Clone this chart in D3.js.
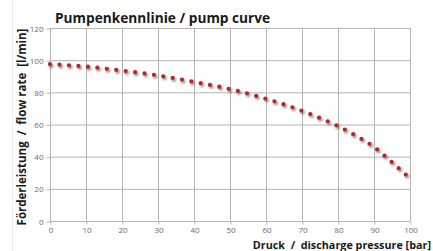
<!DOCTYPE html>
<meta charset="utf-8">
<style>
body { margin: 0; background: #fff; }
.grid line { stroke: #b4b4b4; stroke-width: 1px; }
.axis text { fill: #6a6a6a; font-family: "Open Sans", sans-serif; font-size: 8px; }
.axis line, .axis path { stroke: #b4b4b4; }
.curve { fill: none; stroke: #b02c2c; stroke-width: 4.3px; stroke-linecap: round; stroke-dasharray: 0 9.5; }
.title { font-family: "Open Sans", sans-serif; font-weight: bold; fill: #1a1a1a; }
</style>
<svg width="433" height="251"></svg>
<script src="https://d3js.org/d3.v7.min.js"></script>
<script>

// pump curve
var pressure = [0, 10, 20, 30, 40, 50, 60, 70, 75, 80, 85, 90, 95, 100];
var flow     = [97.5, 96, 93.5, 90.5, 86.5, 82, 76, 68.5, 64, 59, 53, 46, 36.5, 26.5];
var xTicks = [0, 10, 20, 30, 40, 50, 60, 70, 80, 90, 100];
var yTicks = [0, 20, 40, 60, 80, 100, 120];

var svg = d3.select("svg"),
    margin = {top: 28, right: 24, bottom: 30, left: 50},
    width = 360,
    height = 193,
    g = svg.append("g").attr("transform", "translate(" + margin.left + "," + margin.top + ")");

var data = pressure.map(function(p, i) { return {p: p, q: flow[i]}; });

var x = d3.scaleLinear().domain([0, 100]).range([0, width]);
var y = d3.scaleLinear().domain([0, 120]).range([height, 0]);

// faint frame line at the left of the chart area
svg.append("line")
    .attr("x1", 12.5).attr("x2", 12.5).attr("y1", 0).attr("y2", 251)
    .attr("stroke", "#ececec");

var defs = svg.append("defs");
var f = defs.append("filter").attr("id", "shadow")
    .attr("x", "-10%").attr("y", "-10%").attr("width", "120%").attr("height", "130%");
f.append("feDropShadow").attr("dx", 1.3).attr("dy", 1.7).attr("stdDeviation", 1)
    .attr("flood-color", "#000").attr("flood-opacity", 0.5);

g.append("g").attr("class", "grid")
  .selectAll("line.v").data(xTicks).enter().append("line")
    .attr("x1", function(d) { return x(d) + 0.5; })
    .attr("x2", function(d) { return x(d) + 0.5; })
    .attr("y1", 0).attr("y2", height);

g.append("g").attr("class", "grid")
  .selectAll("line.h").data(yTicks).enter().append("line")
    .attr("x1", 0).attr("x2", width)
    .attr("y1", function(d) { return y(d) + 0.5; })
    .attr("y2", function(d) { return y(d) + 0.5; });

g.append("g")
    .attr("class", "axis")
    .attr("transform", "translate(0.5," + (height + 0.5) + ")")
    .call(d3.axisBottom(x).tickValues(xTicks).tickSize(3).tickPadding(3))
    .call(function(s) { s.select(".domain").remove(); });

g.append("g")
    .attr("class", "axis")
    .attr("transform", "translate(0.5,0.5)")
    .call(d3.axisLeft(y).tickValues(yTicks).tickSize(4).tickPadding(3))
    .call(function(s) { s.select(".domain").remove(); });

var line = d3.line()
    .curve(d3.curveMonotoneX)
    .x(function(d) { return x(d.p); })
    .y(function(d) { return y(d.q); });

g.append("path")
    .datum(data)
    .attr("class", "curve")
    .attr("filter", "url(#shadow)")
    .attr("d", line);

svg.append("text")
    .attr("class", "title")
    .attr("x", 55).attr("y", 23)
    .style("font-size", "13.7px")
    .text("Pumpenkennlinie / pump curve");

svg.append("text")
    .attr("class", "title")
    .attr("transform", "translate(26,127) rotate(-90)")
    .attr("text-anchor", "middle")
    .style("font-size", "11.5px")
    .attr("xml:space", "preserve")
    .text("Förderleistung  /  flow rate  [l/min]");

svg.append("text")
    .attr("class", "title")
    .attr("x", 431).attr("y", 249)
    .attr("text-anchor", "end")
    .style("font-size", "10.8px")
    .attr("xml:space", "preserve")
    .text("Druck  /  discharge pressure [bar]");

</script>
